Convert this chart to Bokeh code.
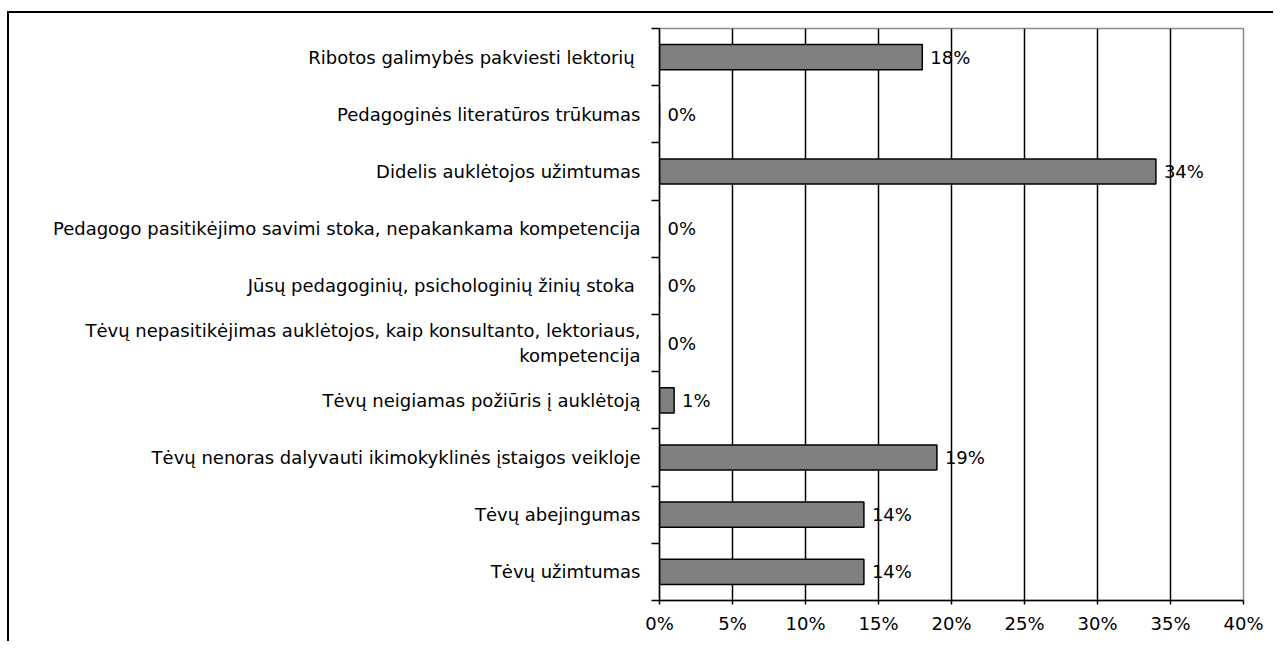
from bokeh.plotting import figure
from bokeh.models import Range1d, FixedTicker, NumeralTickFormatter, ColumnDataSource
from bokeh.core.properties import value
from bokeh.embed import file_html
from bokeh.resources import INLINE

categories = [
    "Ribotos galimybės pakviesti lektorių ",
    "Pedagoginės literatūros trūkumas",
    "Didelis auklėtojos užimtumas",
    "Pedagogo pasitikėjimo savimi stoka, nepakankama kompetencija",
    "Jūsų pedagoginių, psichologinių žinių stoka ",
    "Tėvų nepasitikėjimas auklėtojos, kaip konsultanto, lektoriaus,\nkompetencija",
    "Tėvų neigiamas požiūris į auklėtoją",
    "Tėvų nenoras dalyvauti ikimokyklinės įstaigos veikloje",
    "Tėvų abejingumas",
    "Tėvų užimtumas",
]
values = [18, 0, 34, 0, 0, 0, 1, 19, 14, 14]  # percent
x_ticks = [0, 0.05, 0.10, 0.15, 0.20, 0.25, 0.30, 0.35, 0.40]

n = len(categories)
ypos = [i + 0.5 for i in range(n)]
frac = [v / 100 for v in values]
labels = [f"{v}%" for v in values]
src = ColumnDataSource(dict(y=ypos, x=frac, lab=labels))

FONT = "DejaVu Sans"
FS = "18px"

p = figure(width=1266, height=630, output_backend="svg", toolbar_location=None,
           x_range=Range1d(0, 0.40), y_range=Range1d(n, 0),
           min_border_left=650, min_border_right=32, min_border_top=15, min_border_bottom=43)
p.styles = {"border-left": "2px solid black", "border-top": "2px solid black",
            "margin-top": "11px", "margin-left": "7px"}
p.background_fill_color = "white"
p.border_fill_color = "white"
p.outline_line_color = "#8c8c8c"
p.outline_line_width = 1.5

p.hbar(y="y", right="x", left=0, height=0.44, source=src,
       fill_color="#808080", line_color="black", line_width=1.5)
p.text(x="x", y="y", text="lab", source=src, x_offset=8,
       text_font=value(FONT), text_font_size=FS, text_color="black",
       text_baseline="middle", text_align="left")

# x axis
p.xaxis.ticker = FixedTicker(ticks=x_ticks)
p.xaxis.formatter = NumeralTickFormatter(format="0%")
p.xaxis.major_label_text_font = FONT
p.xaxis.major_label_text_font_size = FS
p.xaxis.major_label_text_color = "black"
p.xaxis.major_label_standoff = 8
p.xaxis.major_tick_in = 0
p.xaxis.major_tick_out = 4
p.xaxis.minor_tick_line_color = None
p.xaxis.axis_line_color = "black"
p.xaxis.axis_line_width = 1.5
p.xaxis.major_tick_line_width = 1.5

# y axis: labels at centres, tick marks at boundaries
p.yaxis.ticker = FixedTicker(ticks=ypos, minor_ticks=[i for i in range(n + 1)])
p.yaxis.major_label_overrides = {y: c for y, c in zip(ypos, categories)}
p.yaxis.major_label_text_font = FONT
p.yaxis.major_label_text_font_size = FS
p.yaxis.major_label_text_color = "black"
p.yaxis.major_tick_in = 0
p.yaxis.major_tick_out = 0
p.yaxis.major_tick_line_color = None
p.yaxis.minor_tick_in = 0
p.yaxis.minor_tick_out = 8
p.yaxis.minor_tick_line_color = "black"
p.yaxis.minor_tick_line_width = 1.5
p.yaxis.major_label_standoff = 11
p.yaxis.axis_line_color = "black"
p.yaxis.axis_line_width = 1.5

p.xgrid.ticker = FixedTicker(ticks=x_ticks[1:-1])
p.xgrid.grid_line_color = "black"
p.xgrid.grid_line_width = 1.5
p.ygrid.grid_line_color = None

open("out.html", "w").write(file_html(p, INLINE))
